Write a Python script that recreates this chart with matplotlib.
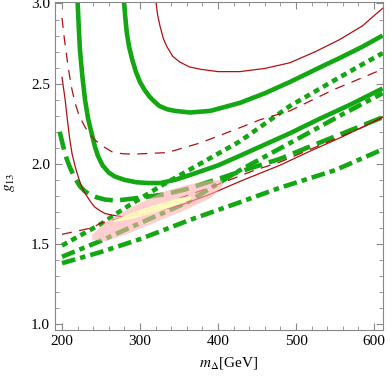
import matplotlib
matplotlib.use("Agg")
import matplotlib.pyplot as plt

plt.rcParams['font.family'] = 'Liberation Serif'
plt.rcParams['mathtext.fontset'] = 'stix'

# green solid, upper U
gs1_x = [279.5, 281, 283, 286, 290, 295, 300, 306, 312, 318, 325, 335, 345, 364, 390, 428, 460, 492, 530, 556, 585, 611]
gs1_y = [3.01, 2.92, 2.82, 2.73, 2.65, 2.57, 2.51, 2.46, 2.42, 2.39, 2.36, 2.34, 2.33, 2.32, 2.33, 2.38, 2.44, 2.51, 2.60, 2.66, 2.73, 2.80]
# green solid, lower U
gs2_x = [220, 221.5, 223, 226, 229.5, 233.5, 238, 242, 246, 252, 260, 268, 280, 295, 310, 326, 345, 364, 400, 428, 460, 492, 530, 570, 611]
gs2_y = [3.01, 2.85, 2.71, 2.55, 2.40, 2.28, 2.19, 2.11, 2.05, 1.99, 1.945, 1.92, 1.90, 1.885, 1.88, 1.88, 1.90, 1.93, 1.99, 2.05, 2.12, 2.19, 2.28, 2.37, 2.47]
# green dashed
gd_x = [197, 200, 203, 206, 210, 216, 223, 229, 235, 245, 255, 266, 277, 303, 332, 358, 400, 440, 479, 514, 560, 611]
gd_y = [2.20, 2.14, 2.08, 2.03, 1.98, 1.915, 1.86, 1.83, 1.81, 1.79, 1.777, 1.772, 1.775, 1.79, 1.81, 1.84, 1.905, 1.97, 2.03, 2.10, 2.19, 2.29]
# green dotted
gt_x = [200, 250, 281, 326, 377, 428, 460, 492, 531, 556, 585, 611]
gt_y = [1.49, 1.625, 1.725, 1.86, 2.00, 2.14, 2.25, 2.36, 2.47, 2.54, 2.62, 2.69]
# green dot-dashed (two)
gdd1_x = [200, 250, 300, 361, 428, 500, 560, 611]
gdd1_y = [1.42, 1.52, 1.63, 1.76, 1.96, 2.15, 2.31, 2.44]
gdd2_x = [200, 250, 300, 364, 428, 479, 550, 611]
gdd2_y = [1.38, 1.45, 1.53, 1.65, 1.76, 1.85, 1.96, 2.09]
# red solid
rs1_x = [320.5, 322.5, 325.6, 330, 334.6, 342, 351, 363, 377, 400, 428, 460, 492, 525, 556, 585, 611]
rs1_y = [3.01, 2.93, 2.86, 2.78, 2.73, 2.67, 2.635, 2.605, 2.59, 2.575, 2.575, 2.595, 2.63, 2.70, 2.775, 2.86, 2.97]
rs2_x = [200, 202, 204, 207, 210, 213, 217, 221, 225, 229, 233, 237, 242, 248, 255, 264, 277, 300, 325, 351, 390, 428, 479, 514, 560, 611]
rs2_y = [2.54, 2.47, 2.40, 2.27, 2.15, 2.06, 1.98, 1.915, 1.86, 1.82, 1.79, 1.76, 1.73, 1.71, 1.69, 1.68, 1.67, 1.68, 1.71, 1.74, 1.81, 1.89, 1.99, 2.07, 2.17, 2.29]
# red dashed
rd1_x = [200, 203, 207.7, 212, 216.7, 222, 229.5, 235, 242, 252, 264, 277, 291, 335, 377, 428, 454, 492, 547, 611]
rd1_y = [2.91, 2.78, 2.61, 2.48, 2.38, 2.30, 2.23, 2.185, 2.15, 2.11, 2.075, 2.063, 2.06, 2.07, 2.13, 2.225, 2.275, 2.33, 2.46, 2.59]
rd2_x = [200, 238, 250, 297, 336, 394, 447, 479, 582, 611]
rd2_y = [1.56, 1.60, 1.63, 1.69, 1.76, 1.86, 1.96, 2.01, 2.22, 2.29]
# shaded regions
pink_x = [238, 255, 280, 300, 330, 360, 390, 405]
pink_lo = [1.53, 1.52, 1.56, 1.60, 1.66, 1.72, 1.79, 1.86]
pink_hi = [1.56, 1.64, 1.71, 1.76, 1.83, 1.87, 1.90, 1.90]
yel_x = [265, 290, 320, 350, 365]
yel_lo = [1.64, 1.66, 1.70, 1.75, 1.78]
yel_hi = [1.65, 1.70, 1.75, 1.79, 1.80]

green = '#13a813'
red = '#b01010'

fig = plt.figure(figsize=(3.9, 3.79), dpi=100)
ax = fig.add_axes([0.141, 0.129, 0.841, 0.866])

lw = 3.3
ax.plot(gs1_x, gs1_y, color=green, lw=lw, solid_capstyle='butt')
ax.plot(gs2_x, gs2_y, color=green, lw=lw, solid_capstyle='butt')
ax.plot(gd_x, gd_y, color=green, lw=lw, dashes=(4, 1.6))
ax.plot(gt_x, gt_y, color=green, lw=lw, dashes=(1.3, 1.0))
ax.plot(gdd1_x, gdd1_y, color=green, lw=lw, dashes=(3, 1.1, 1.2, 1.1))
ax.plot(gdd2_x, gdd2_y, color=green, lw=lw, dashes=(3, 1.1, 1.2, 1.1))

ax.plot(rs1_x, rs1_y, color=red, lw=0.9)
ax.plot(rs2_x, rs2_y, color=red, lw=0.9)
ax.plot(rd1_x, rd1_y, color=red, lw=0.9, dashes=(8, 6))
ax.plot(rd2_x, rd2_y, color=red, lw=0.9, dashes=(8, 6))

ax.fill_between(pink_x, pink_lo, pink_hi, color='#ffb0b0', alpha=0.6, lw=0, zorder=5)
ax.fill_between(yel_x, yel_lo, yel_hi, color='#ffffc0', alpha=0.9, lw=0, zorder=6)

ax.set_xlim(191, 611.5)
ax.set_ylim(0.9625, 3.01)
ax.set_xticks([200, 300, 400, 500, 600])
ax.set_xticks(range(200, 620, 20), minor=True)
ax.set_yticks([1.0, 1.5, 2.0, 2.5, 3.0])
ax.set_yticks([1.0 + 0.1 * i for i in range(21)], minor=True)
ax.set_yticklabels(['1.0', '1.5', '2.0', '2.5', '3.0'])
ax.tick_params(which='both', direction='in', top=True, right=True, color='#888888', labelsize=11)
ax.tick_params(which='major', length=5, width=0.8)
ax.tick_params(which='minor', length=3, width=0.6)
for s in ax.spines.values():
    s.set_color('#888888')

ax.set_xlabel(r'$m_\Delta$[GeV]', fontsize=11)
ax.set_ylabel(r'$g_{13}$', fontsize=11)
ax.xaxis.set_label_coords(0.53, -0.075)
ax.yaxis.set_label_coords(-0.115, 0.45)

fig.savefig('out.png', dpi=100)
